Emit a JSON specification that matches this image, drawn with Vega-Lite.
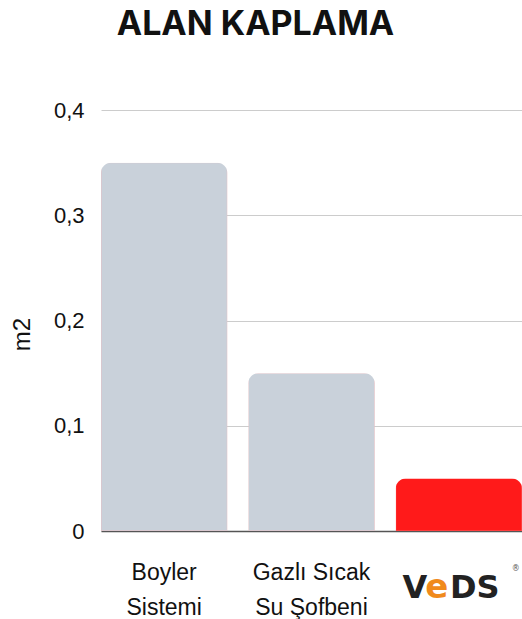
{
  "$schema": "https://vega.github.io/schema/vega-lite/v6.json",
  "autosize": {"type": "none"},
  "padding": {"left": 101, "top": 110, "right": 0, "bottom": 88},
  "width": 421,
  "height": 421,
  "background": "white",
  "title": {
    "text": "ALAN KAPLAMA",
    "font": "Inter",
    "fontSize": 34,
    "fontWeight": 700,
    "color": "#111111",
    "anchor": "middle",
    "dx": -56,
    "offset": 57
  },
  "data": {
    "values": [
      {"sistem": "Boyler Sistemi", "alan": 0.35, "tur": "diger"},
      {"sistem": "Gazlı Sıcak Su Şofbeni", "alan": 0.15, "tur": "diger"},
      {"sistem": "VEDS", "alan": 0.05, "tur": "veds"}
    ]
  },
  "config": {
    "view": {"stroke": null},
    "axis": {"labelFont": "Liberation Sans", "titleFont": "Liberation Sans"}
  },
  "encoding": {
    "x": {
      "field": "sistem",
      "type": "nominal",
      "sort": null,
      "scale": {"paddingInner": 0.143, "paddingOuter": 0.0},
      "axis": {
        "title": null,
        "labelAngle": 0,
        "labelFontSize": 23,
        "labelColor": "#111111",
        "labelLineHeight": 35,
        "labelPadding": 30,
        "labelBaseline": "top",
        "labelExpr": "datum.value == 'Boyler Sistemi' ? ['Boyler', 'Sistemi'] : datum.value == 'Gazlı Sıcak Su Şofbeni' ? ['Gazlı Sıcak', 'Su Şofbeni'] : ''",
        "ticks": false,
        "domainColor": "#555555",
        "domainWidth": 1.5
      }
    }
  },
  "layer": [
    {
      "mark": {"type": "bar", "cornerRadiusTopLeft": 10, "cornerRadiusTopRight": 10, "strokeWidth": 1},
      "encoding": {
        "y": {
          "field": "alan",
          "type": "quantitative",
          "scale": {"domain": [0, 0.4]},
          "axis": {
            "title": "m2",
            "titleFontSize": 24,
            "titleFontWeight": "normal",
            "titleColor": "#111111",
            "titlePadding": 19,
            "titleY": 224,
            "values": [0, 0.1, 0.2, 0.3, 0.4],
            "labelExpr": "datum.value == 0 ? '0' : replace(format(datum.value, '.1f'), '.', ',')",
            "labelFontSize": 22,
            "labelColor": "#111111",
            "labelPadding": 17,
            "ticks": false,
            "domain": false,
            "gridColor": "#cccccc",
            "gridWidth": 1
          }
        },
        "color": {
          "field": "tur",
          "type": "nominal",
          "scale": {"domain": ["diger", "veds"], "range": ["#c9d1da", "#ff1a1a"]},
          "legend": null
        },
        "stroke": {
          "field": "tur",
          "type": "nominal",
          "scale": {"domain": ["diger", "veds"], "range": ["#e8bfc4", "#ff6060"]},
          "legend": null
        }
      }
    },
    {
      "transform": [{"filter": "datum.tur == 'veds'"}],
      "mark": {"type": "text", "font": "DejaVu Sans", "fontWeight": "bold", "fontSize": 32, "baseline": "alphabetic", "dy": 67, "dx": -44, "color": "#222222"},
      "encoding": {"y": {"datum": 0}, "text": {"value": "V"}}
    },
    {
      "transform": [{"filter": "datum.tur == 'veds'"}],
      "mark": {"type": "text", "font": "DejaVu Sans", "fontWeight": "bold", "fontSize": 34, "baseline": "alphabetic", "dy": 67, "dx": -22, "color": "#f08a1c"},
      "encoding": {"y": {"datum": 0}, "text": {"value": "e"}}
    },
    {
      "transform": [{"filter": "datum.tur == 'veds'"}],
      "mark": {"type": "text", "font": "DejaVu Sans", "fontWeight": "bold", "fontSize": 32, "baseline": "alphabetic", "dy": 67, "dx": 16, "color": "#222222"},
      "encoding": {"y": {"datum": 0}, "text": {"value": "DS"}}
    },
    {
      "transform": [{"filter": "datum.tur == 'veds'"}],
      "mark": {"type": "text", "font": "DejaVu Sans", "fontSize": 8, "baseline": "alphabetic", "dy": 40, "dx": 57, "color": "#555555"},
      "encoding": {"y": {"datum": 0}, "text": {"value": "®"}}
    }
  ]
}
